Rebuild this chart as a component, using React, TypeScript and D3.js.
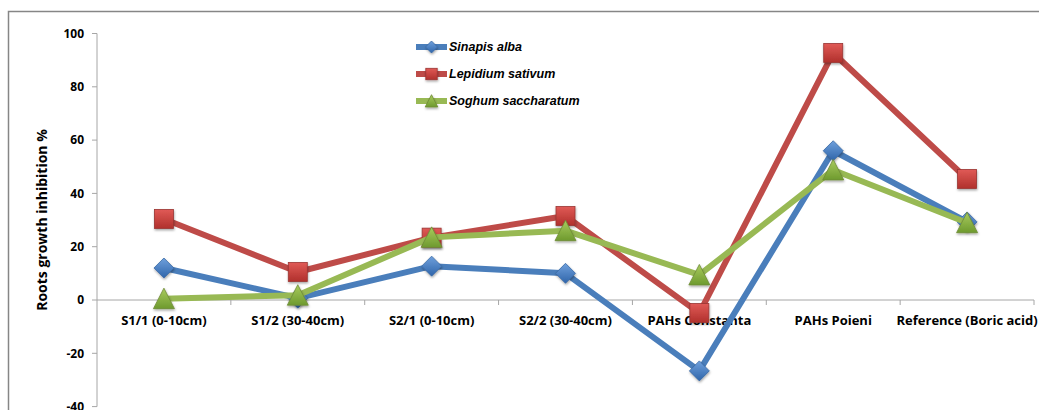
import React from "react";
import * as d3 from "d3";

const categories = [
  "S1/1 (0-10cm)",
  "S1/2 (30-40cm)",
  "S2/1 (0-10cm)",
  "S2/2 (30-40cm)",
  "PAHs Constanta",
  "PAHs Poieni",
  "Reference (Boric acid)",
];
const sinapis = [12, 0.7, 12.7, 10, -26.6, 56, 29.3];
const lepidium = [30.4, 10.5, 23.4, 31.5, -4.9, 92.7, 45.4];
const soghum = [0.5, 1.8, 23.5, 26, 9.4, 48.8, 29];
const yTicks = [-40, -20, 0, 20, 40, 60, 80, 100];

const series = [
  { name: "Sinapis alba", values: sinapis, color: "#4A7EBB", marker: "diamond", g: "gBlue" },
  { name: "Lepidium sativum", values: lepidium, color: "#BE4B48", marker: "square", g: "gRed" },
  { name: "Soghum saccharatum", values: soghum, color: "#98B954", marker: "triangle", g: "gGreen" },
];

const W = 1039, H = 410;
const x0 = 97, x1 = 1034;
const font = "Open Sans, Liberation Sans, Arial, sans-serif";
const legendFont = "Liberation Sans, Arial, sans-serif";

function Marker({ type, cx, cy, g, scale = 1 }: any) {
  const s = scale;
  if (type === "diamond") {
    const r = 10 * s;
    return (
      <path
        d={`M${cx},${cy - r}L${cx + r},${cy}L${cx},${cy + r}L${cx - r},${cy}Z`}
        fill={`url(#${g})`}
        stroke="#3A6AA5"
        strokeWidth={0.8}
        filter="url(#shadow)"
      />
    );
  }
  if (type === "square") {
    const r = 9.5 * s;
    return (
      <rect
        x={cx - r}
        y={cy - r}
        width={2 * r}
        height={2 * r}
        fill={`url(#${g})`}
        stroke="#9A3532"
        strokeWidth={0.8}
        filter="url(#shadow)"
      />
    );
  }
  const r = 10.5 * s;
  return (
    <path
      d={`M${cx},${cy - r}L${cx + r},${cy + r * 0.95}L${cx - r},${cy + r * 0.95}Z`}
      fill={`url(#${g})`}
      stroke="#6E8B36"
      strokeWidth={0.8}
      filter="url(#shadow)"
    />
  );
}

export default function App() {
  const x = d3.scaleBand().domain(categories).range([x0, x1]);
  const y = d3.scaleLinear().domain([-40, 100]).range([406.6, 33.5]);
  const line = d3
    .line<number>()
    .x((_, i) => (x(categories[i]) as number) + x.bandwidth() / 2)
    .y((d) => y(d));

  return (
    <svg width={W} height={H} style={{ position: "absolute", left: 0, top: 0 }}>
      <defs>
        <linearGradient id="gBlue" x1="0" y1="0" x2="0" y2="1">
          <stop offset="0" stopColor="#6FA0DC" />
          <stop offset="1" stopColor="#2F65AA" />
        </linearGradient>
        <linearGradient id="gRed" x1="0" y1="0" x2="0" y2="1">
          <stop offset="0" stopColor="#E05A56" />
          <stop offset="1" stopColor="#B0302C" />
        </linearGradient>
        <linearGradient id="gGreen" x1="0" y1="0" x2="0" y2="1">
          <stop offset="0" stopColor="#A9CB5E" />
          <stop offset="1" stopColor="#6E9A2E" />
        </linearGradient>
        <filter id="shadow" x="-50%" y="-50%" width="200%" height="200%">
          <feDropShadow dx="0.5" dy="1.5" stdDeviation="1" floodColor="#000" floodOpacity="0.35" />
        </filter>
      </defs>
      <rect x={0} y={0} width={W} height={H} fill="#fff" />
      <rect x={8.5} y={11.5} width={1100} height={500} fill="none" stroke="#868686" strokeWidth={1.5} />

      {/* Y axis */}
      <line x1={x0} x2={x0} y1={y(100)} y2={y(-40)} stroke="#A6A6A6" strokeWidth={1} />
      {yTicks.map((t) => (
        <g key={t}>
          <line x1={x0 - 5} x2={x0} y1={y(t)} y2={y(t)} stroke="#A6A6A6" />
          <text
            x={84}
            y={y(t)}
            dy="0.36em"
            textAnchor="end"
            fontFamily={font}
            fontWeight="bold"
            fontSize={12}
            fill="#000"
          >
            {t}
          </text>
        </g>
      ))}
      <text
        transform={`translate(47,220) rotate(-90)`}
        textAnchor="middle"
        fontFamily={font}
        fontWeight="bold"
        fontSize={14}
        fill="#000"
      >
        Roots growth inhibition %
      </text>

      {/* X axis at 0 */}
      <line x1={x0} x2={x1} y1={y(0)} y2={y(0)} stroke="#A6A6A6" />
      {categories.map((c, i) => (
        <g key={c}>
          <line
            x1={(x(c) as number) + x.bandwidth()}
            x2={(x(c) as number) + x.bandwidth()}
            y1={y(0)}
            y2={y(0) + 5}
            stroke="#A6A6A6"
          />
          <text
            x={(x(c) as number) + x.bandwidth() / 2}
            y={325}
            textAnchor="middle"
            fontFamily={font}
            fontWeight="bold"
            fontSize={13}
            fill="#000"
          >
            {c}
          </text>
        </g>
      ))}

      {/* Series */}
      {series.map((s) => (
        <g key={s.name}>
          <path d={line(s.values) as string} fill="none" stroke={s.color} strokeWidth={6} strokeLinejoin="round" />
          {s.values.map((v, i) => (
            <Marker
              key={i}
              type={s.marker}
              g={s.g}
              cx={(x(categories[i]) as number) + x.bandwidth() / 2}
              cy={y(v)}
            />
          ))}
        </g>
      ))}

      {/* Legend */}
      {series.map((s, i) => {
        const ly = 47 + i * 27;
        return (
          <g key={s.name}>
            <line x1={416} x2={447} y1={ly} y2={ly} stroke={s.color} strokeWidth={6} />
            <Marker type={s.marker} g={s.g} cx={431.5} cy={ly} scale={0.6} />
            <text
              x={449}
              y={ly}
              dy="0.35em"
              fontFamily={legendFont}
              fontWeight="bold"
              fontStyle="italic"
              fontSize={12.5}
              fill="#000"
            >
              {s.name}
            </text>
          </g>
        );
      })}
    </svg>
  );
}
